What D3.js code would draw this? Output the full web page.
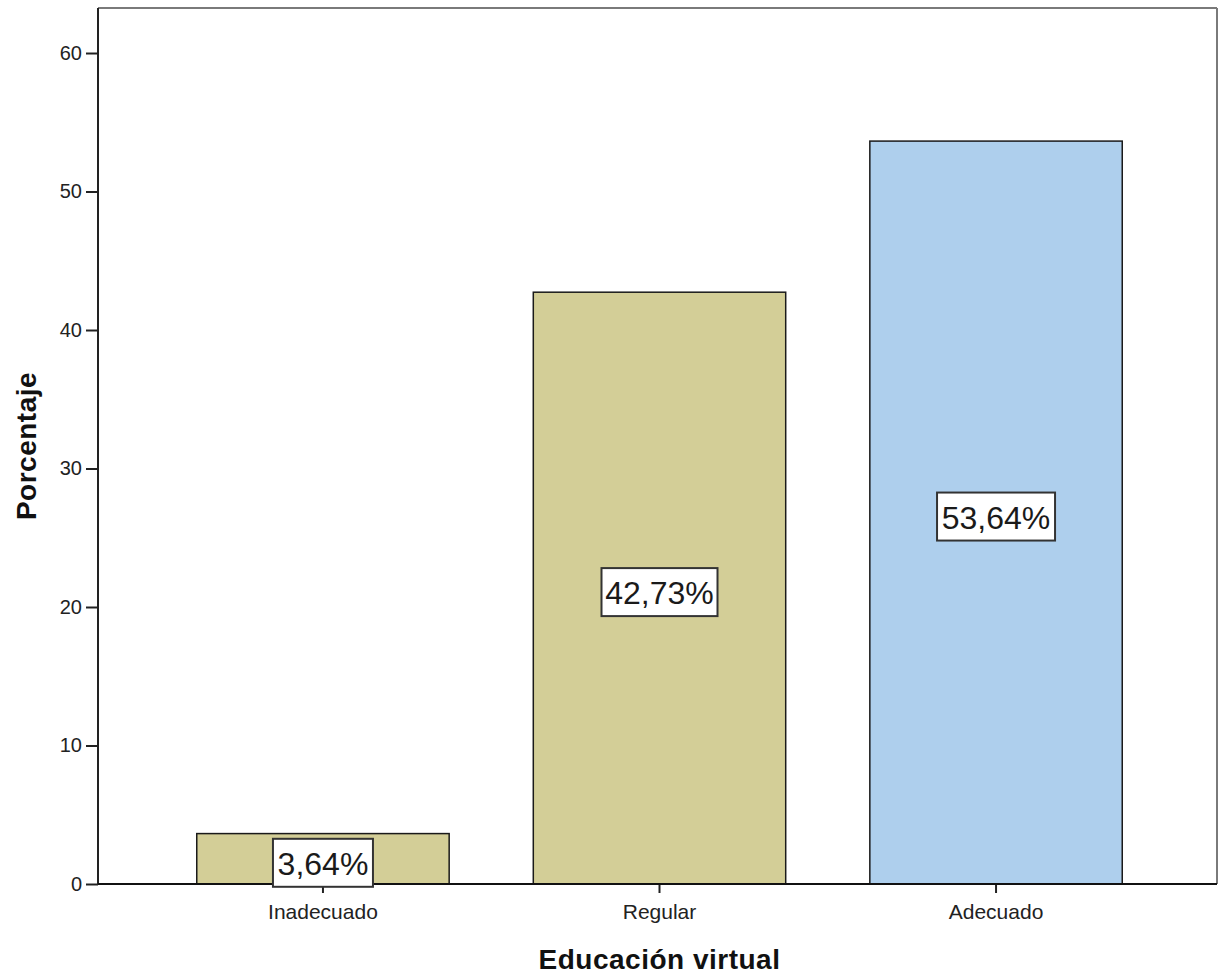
<!DOCTYPE html>
<html>
<head>
<meta charset="utf-8">
<script src="https://cdn.jsdelivr.net/npm/d3@7"></script>
<style>
html,body{margin:0;padding:0;background:#fff;}
svg{display:block;font-family:Arial,"Liberation Sans",sans-serif;}
</style>
</head>
<body>
<svg id="chart" width="1223" height="975"></svg>
<script>
const categories = ["Inadecuado", "Regular", "Adecuado"];
const values = [3.64, 42.73, 53.64];
const valueLabels = ["3,64%", "42,73%", "53,64%"];
const barColors = ["#d3ce97", "#d3ce97", "#aecfed"];
const yTicks = [0, 10, 20, 30, 40, 50, 60];
const xTitle = "Educación virtual";
const yTitle = "Porcentaje";

(function () {
const svg = d3.select("#chart");
const mLeft = 98, mRight = 1217, mTop = 8, mBottom = 884;

const x = d3.scaleBand().domain(categories).range([mLeft + 2, mRight + 2])
  .paddingInner(0.25).paddingOuter(0.2875);
const y = d3.scaleLinear().domain([0, 63.25]).range([mBottom, mTop]);

// frame top & right
svg.append("line").attr("x1", mLeft).attr("x2", mRight).attr("y1", mTop).attr("y2", mTop)
  .attr("stroke", "#7a7a7a").attr("stroke-width", 2);
svg.append("line").attr("x1", mRight).attr("x2", mRight).attr("y1", mTop).attr("y2", mBottom)
  .attr("stroke", "#7a7a7a").attr("stroke-width", 2);

// bars
svg.append("g").selectAll("rect").data(values).join("rect")
  .attr("x", (d, i) => x(categories[i]))
  .attr("y", d => y(d))
  .attr("width", x.bandwidth())
  .attr("height", d => y(0) - y(d))
  .attr("fill", (d, i) => barColors[i])
  .attr("stroke", "#1a1a1a").attr("stroke-width", 1.5);

// y axis
const yAxis = svg.append("g").attr("transform", `translate(${mLeft},0)`)
  .call(d3.axisLeft(y).tickValues(yTicks).tickSize(12).tickPadding(4).tickFormat(d3.format("d")));
yAxis.select(".domain").remove();
yAxis.selectAll(".tick line").attr("stroke", "#222").attr("stroke-width", 2);
yAxis.selectAll(".tick text").attr("font-size", 20).attr("fill", "#222").attr("font-family", "Arial, 'Liberation Sans', sans-serif");
svg.append("line").attr("x1", mLeft).attr("x2", mLeft).attr("y1", mTop).attr("y2", mBottom)
  .attr("stroke", "#222").attr("stroke-width", 2);

// x axis
const xAxis = svg.append("g").attr("transform", `translate(0,${mBottom})`)
  .call(d3.axisBottom(x).tickSize(9).tickPadding(11));
xAxis.select(".domain").remove();
xAxis.selectAll(".tick line").attr("stroke", "#222").attr("stroke-width", 2);
xAxis.selectAll(".tick text").attr("font-size", 21).attr("fill", "#222").attr("font-family", "Arial, 'Liberation Sans', sans-serif");
svg.append("line").attr("x1", mLeft).attr("x2", mRight).attr("y1", mBottom).attr("y2", mBottom)
  .attr("stroke", "#111").attr("stroke-width", 2);

// value labels
const lab = svg.append("g").selectAll("g").data(values).join("g")
  .attr("transform", (d, i) => `translate(${x(categories[i]) + x.bandwidth() / 2},${y(d / 2) + 4})`);
const boxW = [100, 116, 118];
lab.append("rect")
  .attr("x", (d, i) => -boxW[i] / 2).attr("y", -24)
  .attr("width", (d, i) => boxW[i]).attr("height", 48)
  .attr("fill", "#fff").attr("stroke", "#333").attr("stroke-width", 2);
lab.append("text").attr("text-anchor", "middle").attr("dy", 12)
  .attr("font-size", 32).attr("fill", "#1a1a1a")
  .text((d, i) => valueLabels[i]);

// titles
svg.append("text").attr("x", (mLeft + mRight) / 2 + 2).attr("y", 969)
  .attr("text-anchor", "middle").attr("font-size", 28).attr("font-weight", "bold")
  .attr("fill", "#111").attr("letter-spacing", 0.5).text(xTitle);
svg.append("text").attr("transform", `translate(36,${(mTop + mBottom) / 2}) rotate(-90)`)
  .attr("text-anchor", "middle").attr("font-size", 28).attr("font-weight", "bold")
  .attr("fill", "#111").attr("letter-spacing", 0.5).text(yTitle);
})();
</script>
</body>
</html>
